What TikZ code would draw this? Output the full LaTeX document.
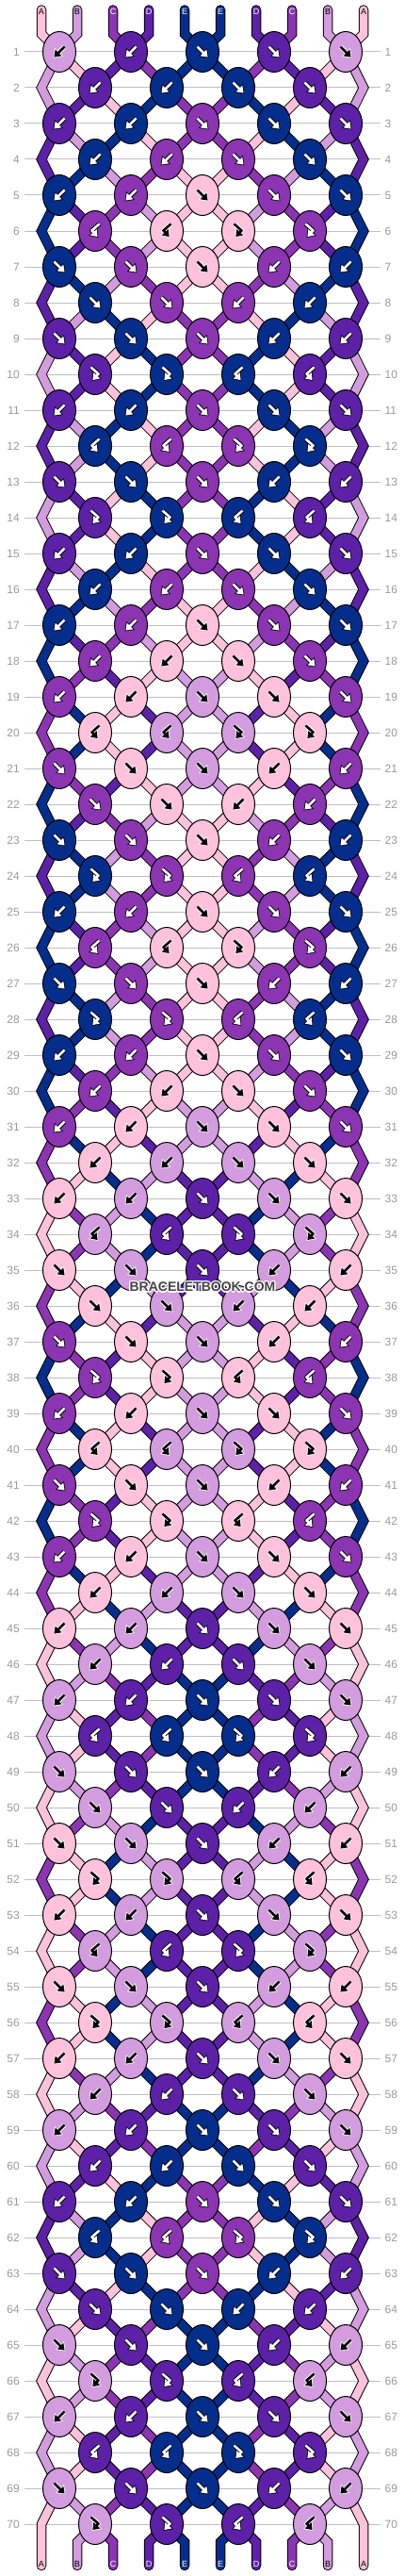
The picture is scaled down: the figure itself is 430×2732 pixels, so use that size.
\documentclass[tikz,border=0pt]{standalone}
\usepackage{fontspec}
\setmainfont{Liberation Sans}
\usetikzlibrary{shapes.geometric,arrows.meta}
\definecolor{colA}{HTML}{FFC1DB}
\definecolor{colB}{HTML}{D39CDE}
\definecolor{colC}{HTML}{8C35B3}
\definecolor{colD}{HTML}{5D21A8}
\definecolor{colE}{HTML}{052E8C}
\definecolor{rowgray}{HTML}{BEBEBE}
\definecolor{numgray}{HTML}{9A9A9A}
\definecolor{wmgray}{HTML}{444444}
\def\txA{black}\def\txB{black}\def\txC{white}\def\txD{white}\def\txE{white}
\def\olA{white}\def\olB{white}\def\olC{black}\def\olD{black}\def\olE{black}
\def\mirf{b}\def\mirb{f}\def\mirF{B}\def\mirB{F}
\def\arrf{(-5.5,-5.5) -- (6.5,6.5)}
\def\arrb{(5.5,-5.5) -- (-6.5,6.5)}
\def\arrF{(-4.5,-7.5) -- (3.5,-0.5) -- (-3.5,7)}
\def\arrB{(4.5,-7.5) -- (-3.5,-0.5) -- (3.5,7)}
\tikzset{
  strout/.style={line width=10.5pt, black, line join=miter, line cap=round},
  strin/.style={line width=8.5pt, line join=miter, line cap=round},
  knot/.style={ellipse, draw=black, line width=1pt, minimum width=35pt, minimum height=43pt, inner sep=0pt},
  rowline/.style={rowgray, line width=1pt},
  rownum/.style={text=numgray, font=\fontsize{12}{12}\selectfont, inner sep=0pt},
  endlab/.style={font=\fontsize{9}{9}\selectfont, inner sep=0pt},
  arrowout/.style={line width=4.6pt, line join=round, -{Triangle[length=8.5pt,width=12pt]}},
  arrowin/.style={line width=2.6pt, line join=round, shorten >=1.3pt, -{Triangle[length=6.5pt,width=9pt]}},
  wm/.style={font=\bfseries\fontsize{14}{14}\selectfont, inner sep=0pt},
}
\newcommand\strseg[2]{%
  \ifnum\pass=0 \draw[strout] #1;\else \draw[strin, color=col#2] #1;\fi}
\begin{document}
\begin{tikzpicture}[x=1pt,y=-1pt]
\fill[white] (0,0) rectangle (430,2732);
\useasboundingbox (0,0) rectangle (430,2732);
% initial strings
\foreach \cc [count=\i] in {A,B,C,D,E,E,D,C,B,A} {%
  \expandafter\xdef\csname S\i\endcsname{\cc}%
  \expandafter\xdef\csname P-0-\i\endcsname{\cc}}
% simulation, row lines, coordinates
\foreach \rw/\tp in {1/b,2/b,3/b,4/b,5/b,6/B,7/f,8/f,9/f,10/F,
 11/b,12/B,13/f,14/F,15/b,16/b,17/b,18/b,19/b,20/B,
 21/f,22/f,23/f,24/F,25/b,26/B,27/f,28/F,29/b,30/b,
 31/b,32/b,33/b,34/B,35/f,36/f,37/f,38/F,39/b,40/B,
 41/f,42/F,43/b,44/b,45/b,46/b,47/b,48/B,49/f,50/f,
 51/f,52/F,53/b,54/B,55/f,56/F,57/b,58/b,59/b,60/b,
 61/b,62/B,63/f,64/f,65/f,66/F,67/b,68/B,69/f,70/F} {
  \pgfmathsetmacro{\yy}{55+38*(\rw-1)}
  \pgfmathtruncatemacro{\odd}{mod(\rw,2)}
  \ifnum\odd=1 \def\nk{5}\def\off{1}\def\xs{63}\else \def\nk{4}\def\off{2}\def\xs{101}\fi
  \expandafter\xdef\csname NK-\rw\endcsname{\nk}%
  \coordinate (la-\rw) at (26,\yy);
  \coordinate (lb-\rw) at (404,\yy);
  \draw[rowline] (la-\rw) -- (lb-\rw);
  \node[rownum, anchor=east] (nl-\rw) at (21,\yy) {\rw};
  \node[rownum, anchor=west] (nr-\rw) at (408.5,\yy) {\rw};
  \ifnum\odd=0
    \coordinate (p-\rw-1) at (44,\yy);
    \coordinate (p-\rw-10) at (386,\yy);
  \fi
  \foreach \kk in {1,...,\nk} {
    \pgfmathtruncatemacro{\lft}{\off+2*(\kk-1)}
    \pgfmathtruncatemacro{\rgt}{\lft+1}
    \pgfmathsetmacro{\xx}{\xs+76*(\kk-1)}
    \ifnum\kk<3 \edef\ty{\tp}\else
      \ifnum\numexpr2*\kk-1\relax=\nk\relax \def\ty{f}\else \edef\ty{\csname mir\tp\endcsname}\fi
    \fi
    \edef\SL{\csname S\lft\endcsname}%
    \edef\SR{\csname S\rgt\endcsname}%
    \let\kc\SR
    \if f\ty \let\kc\SL\fi
    \if F\ty \let\kc\SL\fi
    \if f\ty \expandafter\xdef\csname S\lft\endcsname{\SR}\expandafter\xdef\csname S\rgt\endcsname{\SL}\fi
    \if b\ty \expandafter\xdef\csname S\lft\endcsname{\SR}\expandafter\xdef\csname S\rgt\endcsname{\SL}\fi
    \expandafter\xdef\csname KC-\rw-\kk\endcsname{\kc}%
    \expandafter\xdef\csname KT-\rw-\kk\endcsname{\ty}%
    \coordinate (p-\rw-\lft) at (\xx,\yy);
    \coordinate (p-\rw-\rgt) at (\xx,\yy);
  }
  \foreach \i in {1,...,10} {\expandafter\xdef\csname P-\rw-\i\endcsname{\csname S\i\endcsname}}
}
% top and bottom coordinates
\foreach \i in {1,...,10} {
  \pgfmathsetmacro{\xx}{44+38*(\i-1)}
  \coordinate (top-\i) at (\xx,10.5);
  \coordinate (tb-\i) at (\xx,36);
  \coordinate (bb-\i) at (\xx,2696);
  \coordinate (bot-\i) at (\xx,2721);
}
% strings: pass 0 = black outline, pass 1 = colour
\foreach \pass in {0,1} {
  \foreach \i in {1,...,10} {
    \edef\sc{\csname P-0-\i\endcsname}%
    \strseg{(top-\i) -- (tb-\i) -- (p-1-\i)}{\sc}
  }
  \foreach \rw in {1,...,69} {
    \pgfmathtruncatemacro{\nx}{\rw+1}
    \pgfmathtruncatemacro{\odd}{mod(\rw,2)}
    \foreach \i in {2,...,9} {
      \edef\sc{\csname P-\rw-\i\endcsname}%
      \strseg{(p-\rw-\i) -- (p-\nx-\i)}{\sc}
    }
    \ifnum\odd=1
      \ifnum\rw<69
        \pgfmathtruncatemacro{\nn}{\rw+2}
        \foreach \i in {1,10} {
          \edef\sc{\csname P-\rw-\i\endcsname}%
          \strseg{(p-\rw-\i) -- (p-\nx-\i) -- (p-\nn-\i)}{\sc}
        }
      \fi
    \fi
  }
  \foreach \i in {1,...,10} {
    \edef\sc{\csname P-70-\i\endcsname}%
    \ifnum\i=1
      \strseg{(p-69-\i) -- (p-70-\i) -- (bb-\i) -- (bot-\i)}{\sc}
    \else\ifnum\i=10
      \strseg{(p-69-\i) -- (p-70-\i) -- (bb-\i) -- (bot-\i)}{\sc}
    \else
      \strseg{(p-70-\i) -- (bb-\i) -- (bot-\i)}{\sc}
    \fi\fi
  }
}
% end labels
\foreach \i in {1,...,10} {
  \pgfmathsetmacro{\xx}{44+38*(\i-1)}
  \edef\sc{\csname P-0-\i\endcsname}%
  \edef\tx{\csname tx\sc\endcsname}%
  \node[endlab, text=\tx] (lt-\i) at (\xx,12.7) {\sc};
  \edef\sc{\csname P-70-\i\endcsname}%
  \edef\tx{\csname tx\sc\endcsname}%
  \node[endlab, text=\tx] (lbt-\i) at (\xx,2719) {\sc};
}
% knots
\foreach \rw in {1,...,70} {
  \pgfmathsetmacro{\yy}{55+38*(\rw-1)}
  \pgfmathtruncatemacro{\odd}{mod(\rw,2)}
  \ifnum\odd=1 \def\xs{63}\else \def\xs{101}\fi
  \edef\nk{\csname NK-\rw\endcsname}%
  \foreach \kk in {1,...,\nk} {
    \pgfmathsetmacro{\xx}{\xs+76*(\kk-1)}
    \edef\kc{\csname KC-\rw-\kk\endcsname}%
    \edef\ty{\csname KT-\rw-\kk\endcsname}%
    \edef\tx{\csname tx\kc\endcsname}%
    \edef\ol{\csname ol\kc\endcsname}%
    \expandafter\let\expandafter\ap\csname arr\ty\endcsname
    \node[knot, fill=col\kc] (n-\rw-\kk) at (\xx,\yy) {};
    \begin{scope}[shift={(n-\rw-\kk.center)}]
      \draw[arrowout, color=\ol] \ap;
      \draw[arrowin, color=\tx] \ap;
    \end{scope}
  }
}
% watermark
\foreach \dx/\dy [count=\j] in {-1.2/0,1.2/0,0/-1.2,0/1.2,-0.9/-0.9,0.9/-0.9,-0.9/0.9,0.9/0.9} {
  \node[wm, text=white, xshift=\dx pt, yshift=\dy pt] (wmh-\j) at (215,1365) {BRACELETBOOK.COM};
}
\node[wm, text=wmgray] (wm) at (215,1365) {BRACELETBOOK.COM};
\end{tikzpicture}
\end{document}
